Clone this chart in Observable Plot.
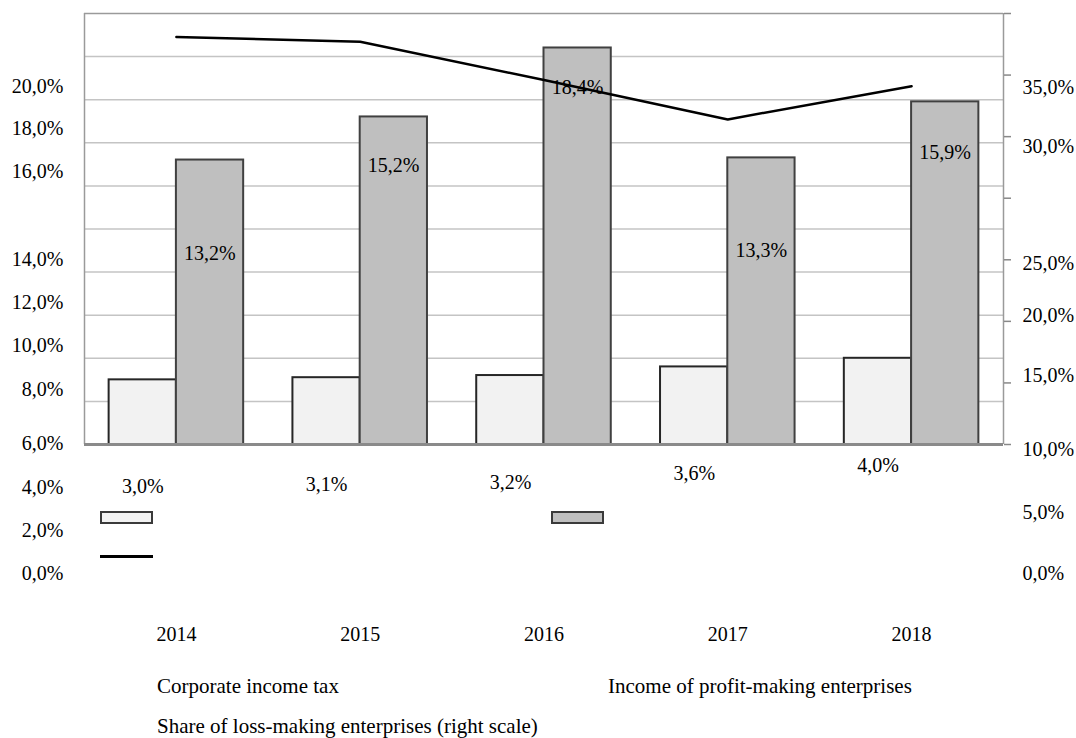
<!DOCTYPE html>
<html><head><meta charset="utf-8">
<script src="https://cdn.jsdelivr.net/npm/d3@7"></script>
<script src="https://cdn.jsdelivr.net/npm/@observablehq/plot@0.6"></script>
<style>
body{margin:0;background:#fff;}
#wrap{position:relative;width:1076px;height:738px;font-family:"Liberation Serif","Times New Roman",serif;}
.lg{position:absolute;font-size:21px;line-height:21px;color:#000;white-space:nowrap;}
.sw{position:absolute;box-sizing:border-box;}
</style></head><body><div id="wrap"></div>
<script>
// ---- data ----
const years = [2014, 2015, 2016, 2017, 2018];
const corporateIncomeTax = [3.0, 3.1, 3.2, 3.6, 4.0];
const profitIncome = [13.2, 15.2, 18.4, 13.3, 15.9];
const lossShare = [33.1, 32.7, 29.6, 26.4, 29.1]; // right scale, %
const taxLabels = ["3,0%", "3,1%", "3,2%", "3,6%", "4,0%"];
const incomeLabels = ["13,2%", "15,2%", "18,4%", "13,3%", "15,9%"];
const incomeLabelAt = [8.85, 12.95, 16.58, 9.0, 13.55];
const leftTickLabels = ["20,0%", "18,0%", "16,0%", "14,0%", "12,0%", "10,0%", "8,0%", "6,0%", "4,0%", "2,0%", "0,0%"];
const leftTickAt = [16.61, 14.66, 12.67, 8.58, 6.59, 4.59, 2.55, 0.05, -2, -4, -6];
const rightTickLabels = ["35,0%", "30,0%", "25,0%", "20,0%", "15,0%", "10,0%", "5,0%", "0,0%"];
const rightTickAt = [16.57, 13.83, 8.4, 5.99, 3.2, -0.23, -3.14, -5.99];
const rightTicks = [0, 5, 10, 15, 20, 25, 30, 35];
const gridValues = [2, 4, 6, 8, 10, 12, 14, 16, 18];
const seriesNames = ["Corporate income tax", "Income of profit-making enterprises", "Share of loss-making enterprises (right scale)"];

const LEFT_MAX = 20, RIGHT_MAX = 35;
const toLeft = v => v * LEFT_MAX / RIGHT_MAX;
const HALF = 0.366;

const taxRows = years.map((y, i) => ({year: y, value: corporateIncomeTax[i]}));
const incRows = years.map((y, i) => ({year: y, value: profitIncome[i]}));
const lossRows = years.map((y, i) => ({year: y, value: lossShare[i]}));

const plot = Plot.plot({
  width: 1076, height: 738,
  marginLeft: 84, marginRight: 73, marginTop: 13, marginBottom: 294,
  x: {type: "linear", domain: [2013.5, 2018.5], axis: null},
  y: {domain: [0, LEFT_MAX]},
  style: {fontFamily: "'Liberation Serif','Times New Roman',serif", fontSize: "20px", color: "#000", background: "#fff", overflow: "visible"},
  marks: [
    Plot.ruleY(gridValues, {stroke: "#c4c4c4", strokeWidth: 1.5}),
    Plot.ruleY([LEFT_MAX], {stroke: "#9a9a9a", strokeWidth: 1.5}),
    Plot.ruleX([2013.5, 2018.5], {stroke: "#9a9a9a", strokeWidth: 1.5}),
    Plot.axisY({anchor: "right", ticks: rightTicks.map(toLeft), tickSize: 7, tickFormat: () => "", label: null, stroke: "#888", strokeWidth: 1.5}),
    Plot.rect(taxRows, {x1: d => d.year - HALF, x2: d => d.year, y1: 0, y2: "value", fill: "#f2f2f2", stroke: "#262626", strokeWidth: 2}),
    Plot.rect(incRows, {x1: d => d.year, x2: d => d.year + HALF, y1: 0, y2: "value", fill: "#bfbfbf", stroke: "#404040", strokeWidth: 2}),
    Plot.ruleY([0], {stroke: "#8a8a8a", strokeWidth: 3}),
    Plot.text(taxRows, {x: "year", y: "value", text: (d, i) => taxLabels[i], dx: -33.5, dy: 107, fill: "#000"}),
    Plot.text(incRows, {x: "year", y: (d, i) => incomeLabelAt[i], text: (d, i) => incomeLabels[i], dx: 33.5, fill: "#000"}),
    Plot.line(lossRows, {x: "year", y: d => toLeft(d.value), stroke: "#000", strokeWidth: 2.5}),
    Plot.text(leftTickLabels, {y: leftTickAt, text: d => d, frameAnchor: "left", textAnchor: "end", dx: -21, fill: "#000"}),
    Plot.text(rightTickLabels, {y: rightTickAt, text: d => d, frameAnchor: "right", textAnchor: "start", dx: 19, fill: "#000"}),
    Plot.text(years, {x: d => d, text: d => String(d), frameAnchor: "bottom", dy: 196, fill: "#000"})
  ]
});

const wrap = document.getElementById("wrap");
wrap.appendChild(plot);

function addDiv(cls, css, text) {
  const d = document.createElement("div");
  d.className = cls;
  d.style.cssText = css;
  if (text) d.textContent = text;
  wrap.appendChild(d);
}
addDiv("sw", "left:100px;top:511px;width:53px;height:13px;background:#f2f2f2;border:2px solid #3a3a3a;");
addDiv("sw", "left:551px;top:511px;width:53px;height:13px;background:#bfbfbf;border:2px solid #3a3a3a;");
addDiv("sw", "left:100px;top:555px;width:53px;height:3px;background:#000;");
addDiv("lg", "left:157px;top:676px;", seriesNames[0]);
addDiv("lg", "left:608px;top:676px;", seriesNames[1]);
addDiv("lg", "left:157px;top:716px;", seriesNames[2]);
</script></body></html>
